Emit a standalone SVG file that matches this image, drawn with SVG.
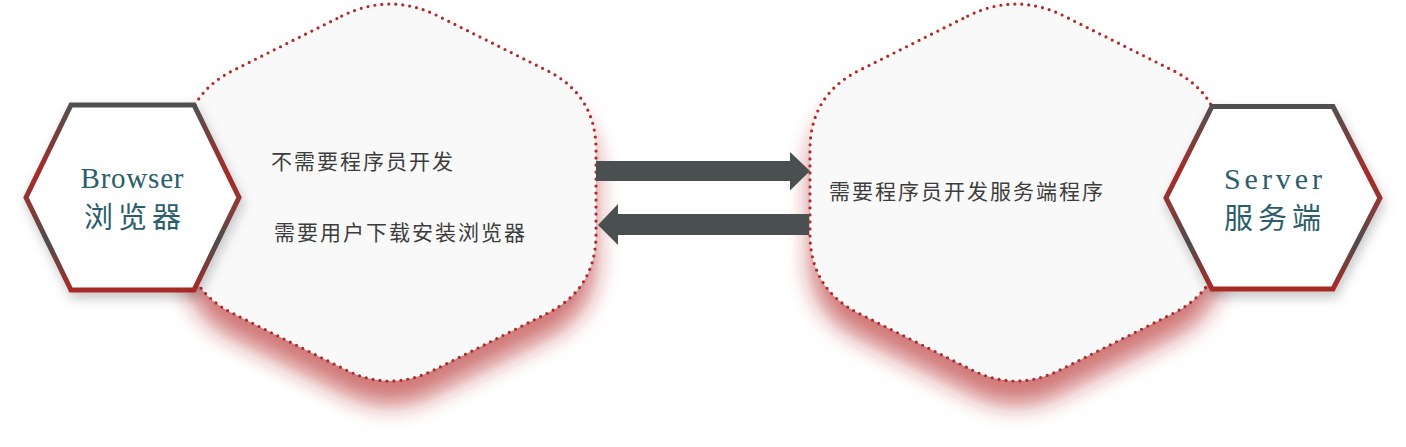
<svg xmlns="http://www.w3.org/2000/svg" width="1406" height="447" viewBox="0 0 1406 447">
  <style>
    .blob { fill: #f9f9f9; stroke: #b22a2a; stroke-width: 3.2; stroke-dasharray: 0 7; stroke-linecap: round; }
    .hex { fill: #ffffff; stroke: url(#hexGrad); stroke-width: 5; stroke-linejoin: miter; }
    .arrow { fill: #4a5050; }
    .note { font-family: "Noto Sans CJK SC", "Noto Sans", sans-serif; font-size: 21px; letter-spacing: 2px; fill: #3d3d3d; }
    .lat { font-family: "Liberation Serif", "DejaVu Serif", serif; fill: #2b5e6c; text-anchor: middle; }
    .cjk { font-family: "Noto Sans CJK SC", sans-serif; font-size: 29px; letter-spacing: 5px; fill: #2b5e6c; text-anchor: middle; }
  </style>
  <defs>
    <linearGradient id="hexGrad" x1="0" y1="0" x2="0" y2="1">
      <stop offset="0" stop-color="#505050"/>
      <stop offset="0.38" stop-color="#a82a28"/>
      <stop offset="0.55" stop-color="#8a3a38"/>
      <stop offset="0.74" stop-color="#4c4c4c"/>
      <stop offset="1" stop-color="#a82a26"/>
    </linearGradient>
    <filter id="redShadow" x="-20%" y="-20%" width="140%" height="160%">
      <feGaussianBlur in="SourceAlpha" stdDeviation="11"/>
      <feOffset dy="24" result="b"/>
      <feFlood flood-color="#b22222" flood-opacity="0.6"/>
      <feComposite in2="b" operator="in"/>
      <feMerge><feMergeNode/><feMergeNode in="SourceGraphic"/></feMerge>
    </filter>
    <filter id="grayShadow" x="-30%" y="-30%" width="160%" height="170%">
      <feDropShadow dx="2" dy="6" stdDeviation="6" flood-color="#000" flood-opacity="0.22"/>
    </filter>
    <path id="blobShape" d="M341.7,16.1 Q390,-8 438.3,16.1 L546.8,70.4 Q596,95 596,150 L596,234 Q596,289 546.8,313.6 L433.8,370.1 Q390,392 346.2,370.1 L233.2,313.6 Q184,289 184,234 L184,150 Q184,95 233.2,70.4 Z"/>
  </defs>
  <rect width="1406" height="447" fill="#ffffff"/>

  <g id="client-blob">
    <use href="#blobShape" class="blob" filter="url(#redShadow)"/>
    <text class="note" x="271" y="169">不需要程序员开发</text>
    <text class="note" x="274" y="240">需要用户下载安装浏览器</text>
  </g>

  <g id="server-blob">
    <use href="#blobShape" class="blob" filter="url(#redShadow)" transform="translate(626,0)"/>
    <text class="note" x="829" y="199">需要程序员开发服务端程序</text>
  </g>

  <g id="connectors">
    <polygon class="arrow" points="596,161 790,161 790,152 810,171 790,190.5 790,181 596,181"/>
    <polygon class="arrow" points="809,214 618,214 618,204 598,225 618,245 618,235 809,235"/>
  </g>

  <g id="browser">
    <polygon class="hex" filter="url(#grayShadow)" points="71,105 194,105 239,197.5 194,290 71,290 26,197.5"/>
    <text class="lat" x="132" y="188" font-size="29" textLength="103" lengthAdjust="spacing">Browser</text>
    <text class="cjk" x="135" y="228">浏览器</text>
  </g>

  <g id="server">
    <polygon class="hex" filter="url(#grayShadow)" points="1212,106.5 1333,106.5 1380,198 1333,289 1212,289 1166,198"/>
    <text class="lat" x="1273" y="189" font-size="30" textLength="98" lengthAdjust="spacing">Server</text>
    <text class="cjk" x="1275" y="229">服务端</text>
  </g>
</svg>
